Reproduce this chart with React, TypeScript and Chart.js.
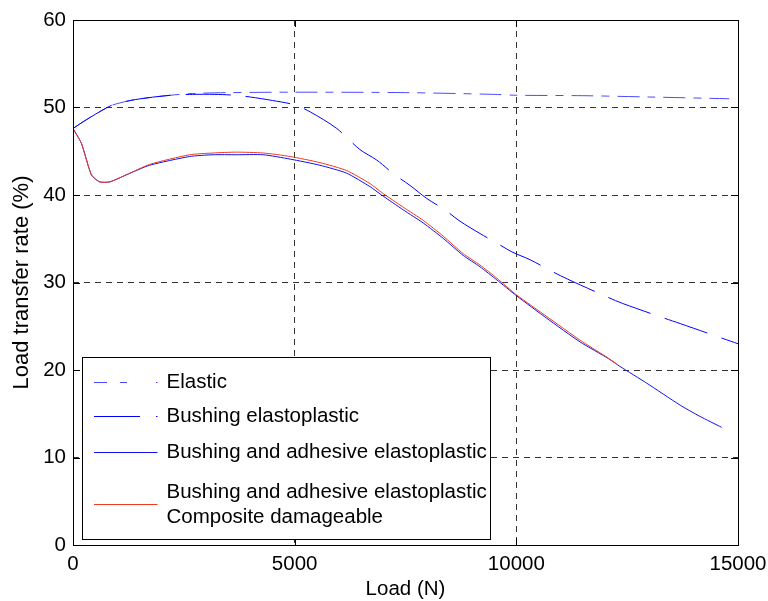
import React, { useEffect, useRef } from "react";
import { Chart, registerables } from "chart.js";

Chart.register(...registerables);

// ---- data ----
const elasticLoad = [0, 300, 700, 900, 1400, 2200, 2700, 3500, 5000, 7500, 9500, 10000, 11500, 13000, 14800];
const elasticRate = [47.6, 48.6, 49.8, 50.3, 50.9, 51.4, 51.6, 51.7, 51.75, 51.7, 51.5, 51.4, 51.35, 51.2, 51.0];

const bushingLoad = [0, 300, 700, 900, 1400, 2200, 2700, 3200, 3650, 4000, 4500, 5000, 5350, 5950, 6470, 6850, 7260, 7600, 7980, 8390, 8730, 9180, 9560, 9900, 10310, 10830, 11150, 12070, 12400, 13350, 13700, 14660, 15000];
const bushingRate = [47.6, 48.6, 49.8, 50.3, 50.9, 51.4, 51.5, 51.5, 51.4, 51.2, 50.8, 50.3, 49.5, 47.6, 45.2, 44.0, 42.3, 41.1, 39.6, 38.3, 37.0, 35.6, 34.5, 33.5, 32.6, 31.2, 30.4, 28.3, 27.6, 25.9, 25.3, 23.6, 23.0];

const adhesiveLoad = [0, 190, 415, 600, 830, 1200, 1730, 2630, 3160, 3680, 4290, 4900, 5570, 6170, 6700, 6960, 7450, 7900, 8350, 8800, 9180, 9560, 10000, 10690, 11440, 12080, 12340, 12940, 13690, 14140, 14630];
const adhesiveRate = [47.6, 45.9, 42.3, 41.5, 41.5, 42.3, 43.4, 44.4, 44.6, 44.6, 44.6, 44.1, 43.4, 42.5, 40.95, 40.0, 38.3, 36.8, 35.05, 33.1, 31.8, 30.3, 28.5, 25.9, 23.2, 21.3, 20.4, 18.5, 16.0, 14.7, 13.45];

const damageLoad = [0, 190, 415, 600, 830, 1200, 1730, 2630, 3160, 3680, 4290, 4900, 5570, 6170, 6700, 6960, 7450, 7900, 8350, 8800, 9180, 9560, 10000, 10690, 11440, 12000, 12260];
const damageRate = [47.6, 45.9, 42.3, 41.5, 41.5, 42.3, 43.5, 44.6, 44.8, 44.9, 44.8, 44.4, 43.7, 42.8, 41.3, 40.3, 38.6, 37.1, 35.3, 33.3, 32.0, 30.5, 28.6, 26.1, 23.4, 21.6, 20.7];

const seriesNames = [
  ["Elastic"],
  ["Bushing elastoplastic"],
  ["Bushing and adhesive elastoplastic"],
  ["Bushing and adhesive elastoplastic", "Composite damageable"],
];

const xTicks = [0, 5000, 10000, 15000];
const yTicks = [0, 10, 20, 30, 40, 50, 60];
const xTitle = "Load (N)";
const yTitle = "Load transfer rate (%)";

const FONT = "'Liberation Sans', Arial, Helvetica, sans-serif";
const FONT_SIZE = 20.5;

const seriesColors = ["#4a4aff", "#0000ff", "#1010f0", "#ee3a1e"];
const seriesDash = [[22, 8, 8, 8], [45, 15], [], []];
// legend sample segments: [start, end] pairs in px from the sample start
const legendSampleSegs = [
  [[0, 13], [26, 33], [62, 63.5]],
  [[0, 46], [62, 63.5]],
  [[0, 63.5]],
  [[0, 63.5]],
];

const toPoints = (xs: number[], ys: number[]) => xs.map((x, i) => ({ x, y: ys[i] }));

const framePlugin = {
  id: "frame",
  afterDatasetsDraw(chart: any) {
    const { ctx, chartArea } = chart;
    const { left, right, top, bottom } = chartArea;
    const xs = chart.scales.x;
    const ys = chart.scales.y;
    ctx.save();
    ctx.strokeStyle = "#000";
    ctx.lineWidth = 1;
    ctx.setLineDash([]);
    // inward tick marks
    const tl = 7;
    ctx.beginPath();
    yTicks.forEach((v) => {
      const p = Math.round(ys.getPixelForValue(v)) + 0.5;
      ctx.moveTo(left, p);
      ctx.lineTo(left + tl, p);
      ctx.moveTo(right, p);
      ctx.lineTo(right - tl, p);
    });
    xTicks.forEach((v) => {
      const p = Math.round(xs.getPixelForValue(v)) + 0.5;
      ctx.moveTo(p, bottom);
      ctx.lineTo(p, bottom - tl);
      ctx.moveTo(p, top);
      ctx.lineTo(p, top + tl);
    });
    ctx.stroke();
    // box
    ctx.strokeRect(Math.round(left) + 0.5, Math.round(top) + 0.5, Math.round(right - left), Math.round(bottom - top));

    // legend
    const lx = Math.round(left) + 9.5;
    const ly = Math.round(ys.getPixelForValue(21.5)) + 0.5;
    const lw = 408;
    const lh = 182;
    ctx.fillStyle = "#fff";
    ctx.fillRect(lx, ly, lw, lh);
    ctx.strokeStyle = "#000";
    ctx.strokeRect(lx, ly, lw, lh);
    const rowOffsets = [24, 58, 94, 146];
    ctx.font = `${FONT_SIZE}px ${FONT}`;
    ctx.textBaseline = "middle";
    ctx.textAlign = "left";
    ctx.fillStyle = "#000";
    seriesNames.forEach((lines, i) => {
      const yy = Math.round(ly + rowOffsets[i]) + 0.5;
      if (lines.length === 1) {
        ctx.fillText(lines[0], lx + 84, yy);
      } else {
        ctx.fillText(lines[0], lx + 84, yy - 12);
        ctx.fillText(lines[1], lx + 84, yy + 13);
      }
    });
    seriesNames.forEach((_lines, i) => {
      const yy = Math.round(ly + rowOffsets[i]) + 0.5;
      const sx = lx + 11.5;
      legendSampleSegs[i].forEach(([a, b]) => {
        ctx.beginPath();
        ctx.strokeStyle = seriesColors[i];
        ctx.lineWidth = 1;
        ctx.setLineDash([]);
        ctx.moveTo(sx + a, yy);
        ctx.lineTo(sx + b, yy);
        ctx.stroke();
      });
    });
    ctx.restore();
  },
};

export default function App() {
  const ref = useRef<HTMLCanvasElement | null>(null);
  useEffect(() => {
    document.body.style.margin = "0";
    Chart.defaults.font.family = FONT;
    Chart.defaults.font.size = FONT_SIZE;
    Chart.defaults.color = "#000";
    const mk = (i: number, xs: number[], ys: number[], tension: number, order: number) => ({
      label: seriesNames[i].join(" "),
      data: toPoints(xs, ys),
      borderColor: seriesColors[i],
      borderWidth: 1,
      borderDash: seriesDash[i],
      pointRadius: 0,
      tension,
      order,
    });
    const chart = new Chart(ref.current as HTMLCanvasElement, {
      type: "line",
      data: {
        datasets: [
          mk(0, elasticLoad, elasticRate, 0.3, 3),
          mk(1, bushingLoad, bushingRate, 0.3, 2),
          mk(2, adhesiveLoad, adhesiveRate, 0.2, 1),
          mk(3, damageLoad, damageRate, 0.2, 0),
        ],
      },
      options: {
        animation: false,
        responsive: false,
        events: [],
        layout: { padding: { left: 0, top: 20, right: 30, bottom: 0 } },
        plugins: { legend: { display: false }, tooltip: { enabled: false } },
        scales: {
          x: {
            type: "linear",
            min: 0,
            max: 15000,
            afterBuildTicks: (s: any) => {
              s.ticks = xTicks.map((v) => ({ value: v }));
            },
            afterFit: (s: any) => {
              s.height = 56;
              s.paddingLeft = 0;
              s.paddingRight = 0;
            },
            ticks: { padding: 7, callback: (v: any) => String(v), maxRotation: 0 },
            grid: { color: "#333", lineWidth: 1, drawTicks: false },
            border: { display: false, dash: [6, 5] },
            title: {
              display: true,
              text: xTitle,
              font: { size: FONT_SIZE, lineHeight: 1.1 },
              padding: { top: 0, bottom: 0 },
            },
          },
          y: {
            type: "linear",
            min: 0,
            max: 60,
            afterBuildTicks: (s: any) => {
              s.ticks = yTicks.map((v) => ({ value: v }));
            },
            afterFit: (s: any) => {
              s.width = 73;
              s.paddingTop = 0;
              s.paddingBottom = 0;
            },
            ticks: { padding: 7, callback: (v: any) => String(v) },
            grid: { color: "#333", lineWidth: 1, drawTicks: false },
            border: { display: false, dash: [6, 5] },
            title: {
              display: true,
              text: yTitle,
              font: { size: 22, lineHeight: 1.2 },
              padding: { top: 9, bottom: 0 },
            },
          },
        },
      },
      plugins: [framePlugin],
    });
    return () => chart.destroy();
  }, []);
  return (
    <div style={{ position: "absolute", left: 0, top: 0, width: 768, height: 601, background: "#fff" }}>
      <canvas ref={ref} width={768} height={601} />
    </div>
  );
}
